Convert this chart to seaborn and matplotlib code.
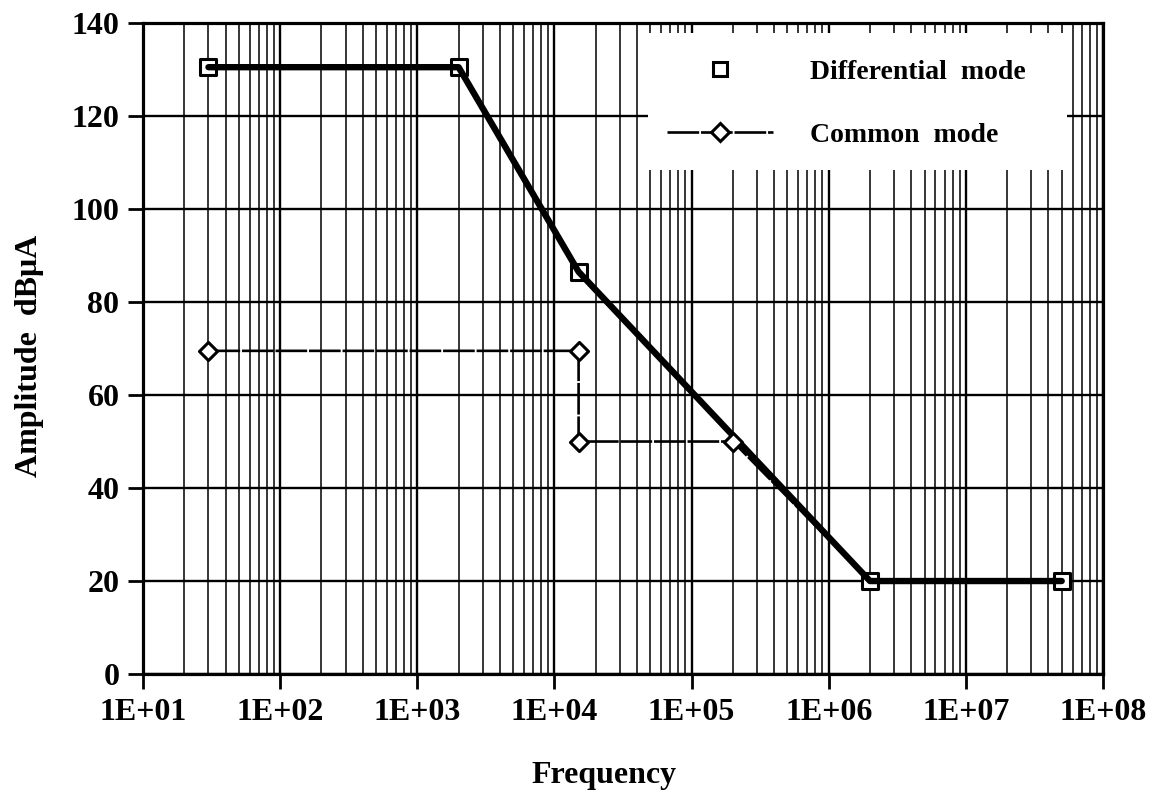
import matplotlib
matplotlib.use("Agg")
import matplotlib.pyplot as plt
import seaborn as sns
from matplotlib.lines import Line2D
from matplotlib.patches import Rectangle
from matplotlib.ticker import LogLocator, FixedLocator, FixedFormatter, NullFormatter

# ---- data ----
diff_freq = [30, 2000, 15000, 2e6, 5e7]
diff_amp = [130.5, 130.5, 86.5, 20, 20]
cm_freq = [30, 15000, 15000, 2e5, 2e6, 5e7]
cm_amp = [69.5, 69.5, 50, 50, 20, 20]
x_ticks = [1e1, 1e2, 1e3, 1e4, 1e5, 1e6, 1e7, 1e8]
x_tick_labels = ["1E+01", "1E+02", "1E+03", "1E+04", "1E+05", "1E+06", "1E+07", "1E+08"]
y_ticks = [0, 20, 40, 60, 80, 100, 120, 140]
legend_labels = ["Differential  mode", "Common  mode"]
x_label = "Frequency"
y_label = "Amplitude  dBμA"

sns.set_style("ticks")
plt.rcParams['font.family'] = ['Liberation Serif', 'DejaVu Serif']
plt.rcParams['font.weight'] = 'bold'
plt.rcParams['text.color'] = 'black'
plt.rcParams['axes.labelcolor'] = 'black'
plt.rcParams['xtick.color'] = 'black'
plt.rcParams['ytick.color'] = 'black'

fig = plt.figure(figsize=(11.63, 7.99), dpi=100)
ax = fig.add_axes([0.123, 0.1564, 0.8254, 0.8148])

cm_style = (0, (12, 0.7))
# lines
sns.lineplot(x=cm_freq, y=cm_amp, color='black', lw=1.9, estimator=None, sort=False,
             ax=ax, zorder=4, linestyle=cm_style)
sns.lineplot(x=diff_freq, y=diff_amp, color='black', lw=4.6, estimator=None, sort=False,
             ax=ax, zorder=5)
# markers
sns.scatterplot(x=diff_freq, y=diff_amp, marker='s', s=125, facecolor='white',
                edgecolor='black', linewidth=2.2, ax=ax, zorder=4.5)
sns.scatterplot(x=cm_freq[:4], y=cm_amp[:4], marker='D', s=85, facecolor='white',
                edgecolor='black', linewidth=2.2, ax=ax, zorder=6)

ax.set_xscale('log')
ax.set_xlim(x_ticks[0], x_ticks[-1])
ax.set_ylim(y_ticks[0], y_ticks[-1])
ax.xaxis.set_major_locator(FixedLocator(x_ticks))
ax.xaxis.set_major_formatter(FixedFormatter(x_tick_labels))
ax.xaxis.set_minor_locator(LogLocator(base=10, subs=range(2, 10)))
ax.xaxis.set_minor_formatter(NullFormatter())
ax.set_yticks(y_ticks)

ax.grid(which='major', axis='both', color='black', lw=1.7)
ax.grid(which='minor', axis='x', color='black', lw=1.1)
ax.set_axisbelow(True)

ax.tick_params(axis='both', which='major', direction='out', length=11, width=2,
               labelsize=23, pad=6, colors='black')
ax.tick_params(axis='both', which='minor', length=0)
for sp in ax.spines.values():
    sp.set_linewidth(2.3)
    sp.set_color('black')
    sp.set_visible(True)

# white legend area
ax.add_patch(Rectangle((0.526, 0.774), 0.4365, 0.2106, transform=ax.transAxes,
                       facecolor='white', edgecolor='none', zorder=2))

handles = [
    Line2D([], [], marker='s', ls='none', mfc='white', mec='black', ms=10.5, mew=2.2),
    Line2D([], [], marker='D', color='black', lw=1.9, ls=cm_style, mfc='white',
           mec='black', ms=9, mew=2.2),
]
ax.legend(handles, legend_labels, loc='upper left', bbox_to_anchor=(0.546, 0.944),
          frameon=False, handlelength=3.8, handletextpad=1.33, labelspacing=1.35,
          borderpad=0, borderaxespad=0,
          prop=dict(family='Liberation Serif', weight='bold', size=20))

ax.set_xlabel(x_label, fontsize=23, fontweight='bold')
ax.set_ylabel(y_label, fontsize=23, fontweight='bold')
ax.xaxis.set_label_coords(0.480, -0.133)
ax.yaxis.set_label_coords(-0.103, 0.488)

fig.savefig("out.png", dpi=100)
